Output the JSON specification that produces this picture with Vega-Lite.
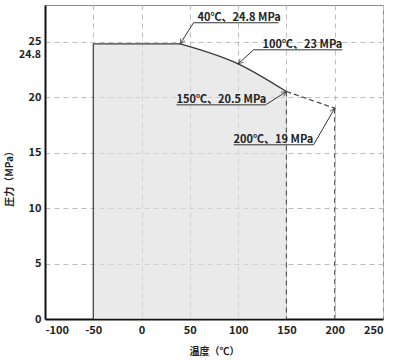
{
  "$schema": "https://vega.github.io/schema/vega-lite/v6.json",
  "width": 338,
  "height": 314,
  "autosize": {"type": "none"},
  "padding": {"left": 45, "top": 5, "right": 17, "bottom": 41},
  "background": "white",
  "config": {
    "view": {"stroke": "#8a8a8a", "strokeWidth": 1},
    "font": "Noto Sans CJK JP",
    "axis": {
      "domainColor": "#111",
      "domainWidth": 2,
      "ticks": false,
      "labelFont": "Noto Sans CJK JP",
      "labelFontSize": 11,
      "labelFontWeight": "bold",
      "labelColor": "#222",
      "gridColor": "#bdbdbd",
      "gridDash": [5, 4],
      "gridWidth": 1,
      "titleFont": "Noto Sans CJK JP",
      "titleFontSize": 10,
      "titleFontWeight": "bold",
      "titleColor": "#222"
    }
  },
  "datasets": {
    "flat": [
      {"t": -50, "p": 24.8},
      {"t": 40, "p": 24.8}
    ],
    "curve": [
      {"t": 40, "p": 24.8},
      {"t": 100, "p": 23},
      {"t": 150, "p": 20.5}
    ],
    "ext": [
      {"t": 150, "p": 20.5},
      {"t": 200, "p": 19}
    ],
    "notes": [
      {"label": "40℃、24.8 MPa", "tx": 58, "ty": 26.7},
      {"label": "100℃、23 MPa", "tx": 125.3, "ty": 24.26},
      {"label": "150℃、20.5 MPa", "tx": 36.2, "ty": 19.3},
      {"label": "200℃、19 MPa", "tx": 95.3, "ty": 15.7}
    ],
    "leaders": [
      {"id": 1, "t": 40, "p": 24.8},
      {"id": 1, "t": 53.8, "p": 26.7},
      {"id": 1, "t": 141.9, "p": 26.7},
      {"id": 2, "t": 100, "p": 23},
      {"id": 2, "t": 116, "p": 24.26},
      {"id": 2, "t": 208, "p": 24.26},
      {"id": 3, "t": 36.2, "p": 19.3},
      {"id": 3, "t": 128.4, "p": 19.3},
      {"id": 3, "t": 150, "p": 20.5},
      {"id": 4, "t": 95.3, "p": 15.7},
      {"id": 4, "t": 178.1, "p": 15.7},
      {"id": 4, "t": 200, "p": 19}
    ],
    "tips": [
      {"id": 1, "t": 40, "p": 24.8},
      {"id": 2, "t": 100, "p": 23},
      {"id": 3, "t": 150, "p": 20.5},
      {"id": 4, "t": 200, "p": 19}
    ]
  },
  "encoding": {
    "x": {
      "field": "t",
      "type": "quantitative",
      "scale": {"domain": [-100, 250], "nice": false},
      "axis": {"values": [-100, -50, 0, 50, 100, 150, 200, 250], "labelExpr": "'' + datum.value", "title": "温度（℃）", "labelPadding": 5, "titleY": 27, "titleBaseline": "top"}
    },
    "y": {
      "field": "p",
      "type": "quantitative",
      "scale": {"domain": [0, 28.3], "nice": false},
      "axis": {"values": [0, 5, 10, 15, 20, 25], "title": "圧力（MPa）", "labelPadding": 4, "titleX": -31, "titleY": 171}
    }
  },
  "layer": [
    {
      "data": {"name": "flat"},
      "mark": {"type": "area", "color": "#dcdcdc", "opacity": 0.6}
    },
    {
      "data": {"name": "curve"},
      "mark": {"type": "area", "interpolate": "monotone", "color": "#dcdcdc", "opacity": 0.6}
    },
    {
      "data": {"name": "flat"},
      "mark": {"type": "line", "color": "#3a3a3a", "strokeWidth": 1.3}
    },
    {
      "data": {"name": "curve"},
      "mark": {"type": "line", "interpolate": "monotone", "color": "#3a3a3a", "strokeWidth": 1.3}
    },
    {
      "data": {"name": "flat"},
      "transform": [{"filter": "datum.t == -50"}],
      "mark": {"type": "rule", "color": "#3a3a3a", "strokeWidth": 1.2},
      "encoding": {"y2": {"datum": 0}}
    },
    {
      "data": {"name": "ext"},
      "mark": {"type": "rule", "color": "#555", "strokeWidth": 1.2, "strokeDash": [5, 4]},
      "encoding": {"y2": {"datum": 0}}
    },
    {
      "data": {"name": "ext"},
      "mark": {"type": "line", "color": "#444", "strokeWidth": 1.2, "strokeDash": [5, 3]}
    },
    {
      "data": {"name": "leaders"},
      "mark": {"type": "line", "color": "#333", "strokeWidth": 1},
      "encoding": {"detail": {"field": "id"}}
    },
    {
      "data": {"name": "tips"},
      "transform": [{"filter": "datum.id == 1"}],
      "mark": {"type": "point", "shape": "M-0.5,1L0,0L0.5,1", "size": 100, "filled": false, "color": "#333", "strokeWidth": 1, "angle": 212}
    },
    {
      "data": {"name": "tips"},
      "transform": [{"filter": "datum.id == 2"}],
      "mark": {"type": "point", "shape": "M-0.5,1L0,0L0.5,1", "size": 100, "filled": false, "color": "#333", "strokeWidth": 1, "angle": 228}
    },
    {
      "data": {"name": "tips"},
      "transform": [{"filter": "datum.id == 3"}],
      "mark": {"type": "point", "shape": "M-0.5,1L0,0L0.5,1", "size": 100, "filled": false, "color": "#333", "strokeWidth": 1, "angle": 57}
    },
    {
      "data": {"name": "tips"},
      "transform": [{"filter": "datum.id == 4"}],
      "mark": {"type": "point", "shape": "M-0.5,1L0,0L0.5,1", "size": 100, "filled": false, "color": "#333", "strokeWidth": 1, "angle": 30}
    },
    {
      "data": {"name": "notes"},
      "mark": {"type": "text", "align": "left", "baseline": "alphabetic", "dy": -2, "fontSize": 11, "fontWeight": "bold", "color": "#222", "font": "Noto Sans CJK JP"},
      "encoding": {
        "x": {"field": "tx", "type": "quantitative"},
        "y": {"field": "ty", "type": "quantitative"},
        "text": {"field": "label"}
      }
    },
    {
      "data": {"values": [{"t": -100, "p": 24.8, "label": "24.8"}]},
      "mark": {"type": "text", "align": "right", "baseline": "middle", "dx": -4, "dy": 11, "fontSize": 10.5, "fontWeight": "bold", "color": "#222", "font": "Noto Sans CJK JP"},
      "encoding": {"text": {"field": "label"}}
    }
  ]
}
